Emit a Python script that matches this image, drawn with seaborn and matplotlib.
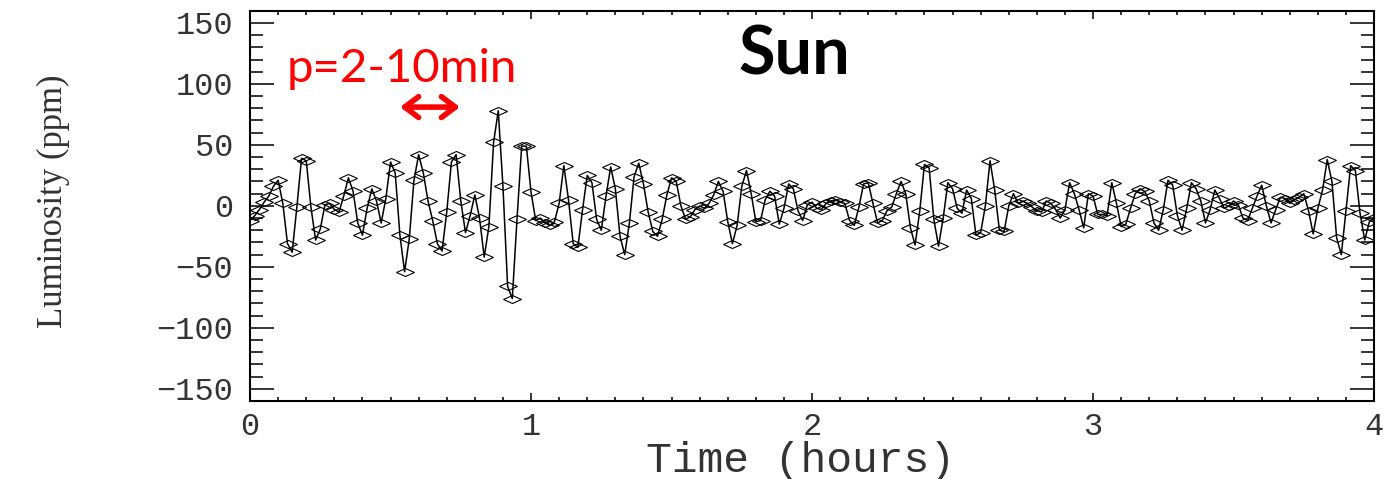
import numpy as np
import pandas as pd
import seaborn as sns
import matplotlib.pyplot as plt
from matplotlib.markers import MarkerStyle
from matplotlib.transforms import Affine2D
from matplotlib.ticker import MultipleLocator

# solar luminosity residuals (ppm), one sample per minute, split by hour
hour_1 = [-12, -8, -3, 3, 8, 16, 21, 2, -31, -38,
          -1, 39, 37, -1, -28, -19, 1, 2, -3, -5,
          8, 23, 12, -14, -24, -2, 14, 4, -14, 6,
          36, 27, -24, -54, -27, 21, 42, 27, 4, -12,
          -31, -37, -5, 36, 42, 4, -22, -8, 9, -10,
          -42, -17, 52, 78, 16, -66, -76, -11, 49, 49]
hour_2 = [11, -12, -10, -14, -16, -13, 2, 33, 5, -31,
          -34, -3, 25, 19, -11, -20, 8, 32, 14, -25,
          -40, -14, 24, 35, 18, -5, -21, -25, -11, 9,
          23, 20, 0, -11, -9, -3, 0, -2, 2, 9,
          20, 12, -13, -31, -16, 16, 29, 10, -13, -12,
          5, 12, 8, -15, -2, 18, 14, -4, -12, 1]
hour_3 = [3, -2, -3, 2, 4, 5, 3, 2, -12, -16,
          -1, 18, 19, 2, -14, -12, -4, -1, 10, 20,
          10, -18, -32, -4, 34, 31, -11, -33, -10, 19,
          14, -2, -6, 13, 6, -24, -22, 0, 37, 13,
          -20, -21, 0, 10, 2, 4, 2, -1, -4, -5,
          4, 2, -3, -10, -3, 19, 10, -3, -18, 10]
hour_4 = [8, -7, -7, -8, 19, 2, -17, -15, -2, 10,
          14, 12, 4, -14, -20, -3, 21, 17, -8, -20,
          -2, 19, 14, 4, -14, -3, 13, 6, -2, 0,
          4, 1, -10, -12, -2, 8, 17, 0, -14, -3,
          7, 6, 2, 5, 7, 10, -4, -23, -2, 13,
          38, 20, -26, -40, -4, 33, 29, -6, -28, -13,
          -10]

luminosity = hour_1 + hour_2 + hour_3 + hour_4
cadence_min = 1
df = pd.DataFrame({
    "time": np.arange(len(luminosity)) * cadence_min / 60.0,
    "lum": luminosity,
})

sns.set_style("ticks")
plt.rcParams["font.family"] = ["Liberation Mono", "DejaVu Sans"]

fig = plt.figure(figsize=(13.86, 4.79), dpi=100)
ax = fig.add_axes([0.1804, 0.1628, 0.8110, 0.8148])

flat_diamond = MarkerStyle("D", transform=Affine2D().scale(1.0, 0.45))
sns.lineplot(data=df, x="time", y="lum", ax=ax, color="black", lw=1.1,
             marker=flat_diamond, markersize=9.2, markerfacecolor="none",
             markeredgecolor="black", markeredgewidth=0.8,
             estimator=None, sort=False)

ax.set_xlim(0, 4)
ax.set_ylim(-160, 160)
ax.xaxis.set_major_locator(MultipleLocator(1))
ax.xaxis.set_minor_locator(MultipleLocator(0.1))
ax.yaxis.set_major_locator(MultipleLocator(50))
ax.yaxis.set_minor_locator(MultipleLocator(10))

ax.tick_params(which="both", direction="in", top=True, right=True,
               width=1.1, color="black", labelcolor="#333333")
ax.tick_params(axis="x", which="major", length=6, labelsize=23, pad=8)
ax.tick_params(axis="x", which="minor", length=3)
ax.tick_params(axis="y", which="major", length=17, labelsize=23, pad=12)
ax.tick_params(axis="y", which="minor", length=9.5)
for spine in ax.spines.values():
    spine.set_linewidth(1.5)
    spine.set_color("black")

ax.set_xlabel("Time (hours)", fontsize=31, color="#333333")
ax.set_ylabel("Luminosity (ppm)", fontsize=25, color="#333333",
              family=["Liberation Serif", "DejaVu Serif"])
ax.xaxis.label.set_va("center")
ax.yaxis.label.set_va("center")
ax.xaxis.set_label_coords(0.49, -0.154)
ax.yaxis.set_label_coords(-0.175, 0.512)

ax.text(1.936, 107.6, "Sun", family=["Lato", "DejaVu Sans"], fontweight="bold",
        fontsize=48, ha="center", va="baseline", color="black")
ax.text(0.539, 101.9, "p=2-10min", family=["Lato", "DejaVu Sans"],
        fontsize=34, ha="center", va="baseline", color="red")
ax.annotate("", xy=(0.747, 81), xytext=(0.534, 81),
            arrowprops=dict(arrowstyle="<->,head_length=1.0,head_width=0.75",
                            color="red", lw=4, shrinkA=0, shrinkB=0))

fig.savefig("out.png", dpi=100)
